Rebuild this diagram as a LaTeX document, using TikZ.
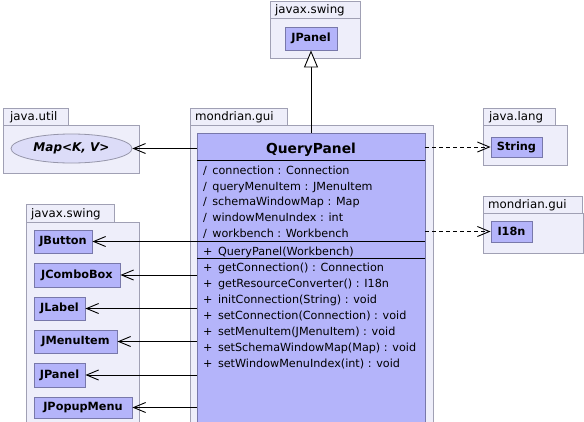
\documentclass[tikz,border=0pt]{standalone}
\usepackage{fontspec}
\setmainfont{DejaVu Sans}
\usetikzlibrary{arrows.meta,shapes.geometric}
\definecolor{pkgfill}{RGB}{238,238,250}
\definecolor{pkgline}{RGB}{160,160,180}
\definecolor{clsfill}{RGB}{180,180,250}
\definecolor{clsline}{RGB}{120,120,170}
\definecolor{ellfill}{RGB}{220,220,248}
\definecolor{ellline}{RGB}{150,150,170}
\begin{document}
\begin{tikzpicture}[x=1pt,y=-1pt,
  pkg/.style={draw=pkgline, fill=pkgfill, line width=0.9pt},
  pkglabel/.style={inner sep=0pt, anchor=base west, font=\fontsize{11.8}{13}\selectfont},
  cls/.style={draw=clsline, fill=clsfill, line width=0.9pt, inner sep=0pt,
    font=\bfseries\fontsize{11.3}{13}\selectfont},
  member/.style={inner sep=0pt, anchor=base west, font=\fontsize{11.2}{13}\selectfont},
  uses/.style={-{Straight Barb[length=12pt,width=10pt]}, line width=0.9pt},
  dep/.style={uses, dash pattern=on 4pt off 3pt},
  inh/.style={-{Triangle[open,length=17pt,width=14pt,fill=white]}, line width=0.9pt}
]
\useasboundingbox (0,0) rectangle (584,421);
\clip (0,0) rectangle (584,421);
\fill[white] (0,0) rectangle (584,421);

% ---- packages ----
% top javax.swing
\draw[pkg] (270,18) rectangle (360,58);
\draw[pkg] (270,1) rectangle (360,18);
\node[pkglabel] (ptop) at (275,13.5) {javax.swing};
% mondrian.gui (main)
\draw[pkg] (190,125) rectangle (433,440);
\draw[pkg] (190,108) rectangle (287,125);
\node[pkglabel] (pmain) at (195,120.5) {mondrian.gui};
% java.util
\draw[pkg] (3,125) rectangle (139,173);
\draw[pkg] (3,108) rectangle (68,125);
\node[pkglabel] (putil) at (10,120.5) {java.util};
% left javax.swing
\draw[pkg] (26,222) rectangle (139,440);
\draw[pkg] (26,204) rectangle (114,222);
\node[pkglabel] (pswing) at (31,217.5) {javax.swing};
% java.lang
\draw[pkg] (483,125) rectangle (567,165);
\draw[pkg] (483,108) rectangle (555,125);
\node[pkglabel] (plang) at (489,120.5) {java.lang};
% right mondrian.gui
\draw[pkg] (483,213) rectangle (583,253);
\draw[pkg] (483,196) rectangle (582,213);
\node[pkglabel] (pgui) at (488,208.5) {mondrian.gui};

% ---- classes ----
\node[cls, minimum width=52, minimum height=23] (tjpanel) at (311,38.5) {JPanel};
\node[cls, minimum width=51, minimum height=20] (string) at (516.5,147) {String};
\node[cls, minimum width=41, minimum height=21] (i18n) at (511.5,231.5) {I18n};
\node[draw=ellline, fill=ellfill, line width=0.8pt, ellipse, minimum width=121, minimum height=29, inner sep=0pt,
  font=\bfseries\itshape\fontsize{12}{13}\selectfont] (map) at (71.5,148.5) {Map<K, V>};

\node[cls, minimum width=58, minimum height=23] (jbutton) at (63,241.5) {JButton};
\node[cls, minimum width=86, minimum height=24] (jcombo) at (77,275) {JComboBox};
\node[cls, minimum width=51, minimum height=23] (jlabel) at (59.5,308.5) {JLabel};
\node[cls, minimum width=83, minimum height=23] (jmenu) at (75.5,341.5) {JMenuItem};
\node[cls, minimum width=51, minimum height=24] (jpanel) at (59.5,375) {JPanel};
\node[cls, minimum width=98, minimum height=21] (jpopup) at (83,407.5) {JPopupMenu};

% QueryPanel
\node[cls, minimum width=228, minimum height=307] (qp) at (311,286.5) {};
\draw[black, line width=0.9pt] (197,160) -- (425,160);
\draw[black, line width=0.9pt] (197,241) -- (425,241);
\draw[black, line width=0.9pt] (197,258) -- (425,258);
\node[inner sep=0pt, anchor=base, font=\bfseries\fontsize{13.8}{15}\selectfont] (qpname) at (311,153) {QueryPanel};
\node[member] (a1) at (203,174) {/ \,connection : Connection};
\node[member] (a2) at (203,190) {/ \,queryMenuItem : JMenuItem};
\node[member] (a3) at (203,205.5) {/ \,schemaWindowMap : Map};
\node[member] (a4) at (203,221) {/ \,windowMenuIndex : int};
\node[member] (a5) at (203,237) {/ \,workbench : Workbench};
\node[member] (c1) at (203,255) {+ \,QueryPanel(Workbench)};
\node[member] (m1) at (203,271) {+ \,getConnection() : Connection};
\node[member] (m2) at (203,287) {+ \,getResourceConverter() : I18n};
\node[member] (m3) at (203,303) {+ \,initConnection(String) : void};
\node[member] (m4) at (203,319) {+ \,setConnection(Connection) : void};
\node[member] (m5) at (203,335) {+ \,setMenuItem(JMenuItem) : void};
\node[member] (m6) at (203,351) {+ \,setSchemaWindowMap(Map) : void};
\node[member] (m7) at (203,367) {+ \,setWindowMenuIndex(int) : void};

% ---- connectors ----
\draw[inh] (qp.north -| tjpanel.south) -- (tjpanel.south);
\draw[uses] (qp.west |- map.east) -- (map.east);
\draw[dep] (qp.east |- string.west) -- (string.west);
\draw[dep] (qp.east |- i18n.west) -- (i18n.west);
\draw[uses] (qp.west |- jbutton.east) -- (jbutton.east);
\draw[uses] (qp.west |- jcombo.east) -- (jcombo.east);
\draw[uses] (qp.west |- jlabel.east) -- (jlabel.east);
\draw[uses] (qp.west |- jmenu.east) -- (jmenu.east);
\draw[uses] (qp.west |- jpanel.east) -- (jpanel.east);
\draw[uses] (qp.west |- jpopup.east) -- (jpopup.east);
\end{tikzpicture}
\end{document}
